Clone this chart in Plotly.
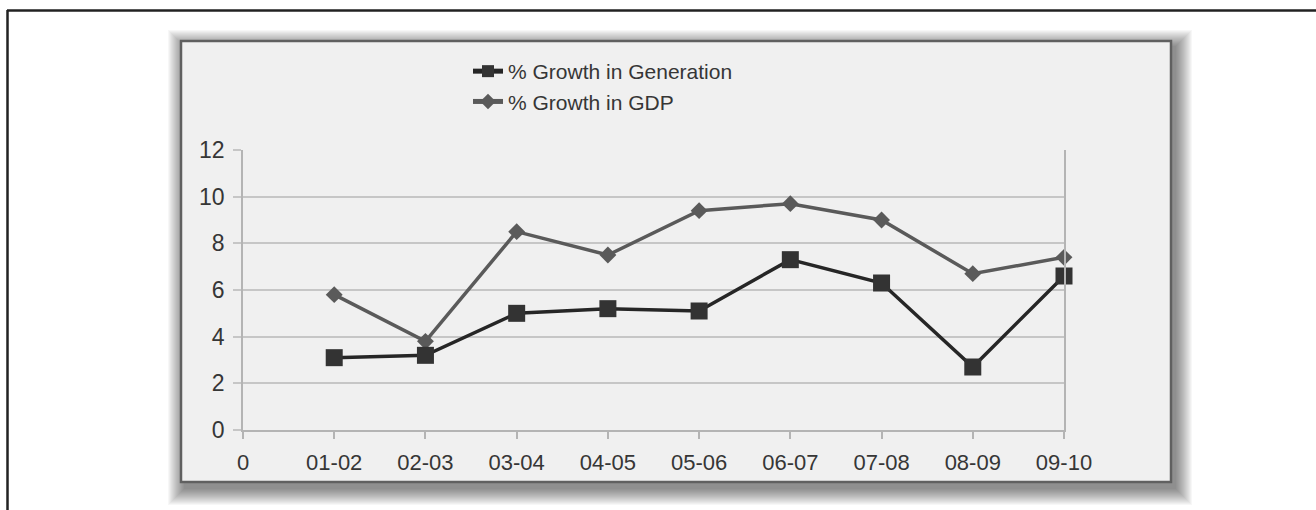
import plotly.graph_objects as go

# ---- data ----
tick_labels = ["0", "01-02", "02-03", "03-04", "04-05", "05-06", "06-07", "07-08", "08-09", "09-10"]
years = ["01-02", "02-03", "03-04", "04-05", "05-06", "06-07", "07-08", "08-09", "09-10"]
growth_generation = [3.1, 3.2, 5.0, 5.2, 5.1, 7.3, 6.3, 2.7, 6.6]
growth_gdp = [5.8, 3.8, 8.5, 7.5, 9.4, 9.7, 9.0, 6.7, 7.4]
y_ticks = [0, 2, 4, 6, 8, 10, 12]

W, H = 1316, 510
L, R, T, B = 243, 1064, 150, 430  # plot area in pixels

def px(x):
    return (x - L) / (R - L)

def py(y):
    return (B - y) / (B - T)

FONT = "Liberation Sans, Arial, sans-serif"
TXT = "#363636"

fig = go.Figure()
fig.add_trace(go.Scatter(
    x=years, y=growth_gdp, name="% Growth in GDP", mode="lines+markers",
    line=dict(color="#5a5a5a", width=3.5),
    marker=dict(symbol="diamond", size=13, color="#5a5a5a"),
    legendrank=2, cliponaxis=False,
))
fig.add_trace(go.Scatter(
    x=years, y=growth_generation, name="% Growth in Generation", mode="lines+markers",
    line=dict(color="#262626", width=3.5),
    marker=dict(symbol="square", size=17, color="#333333"),
    legendrank=1, cliponaxis=False,
))

shapes = []
# panel shadow
px0, py0, px1, py1 = 181, 41, 1171, 482
for k in range(1, 18):
    shapes.append(dict(type="rect", xref="paper", yref="paper", layer="below",
                       x0=px(px0 - k + 4), x1=px(px1 + k + 4),
                       y0=py(py1 + k + 6), y1=py(py0 - k + 6),
                       line=dict(width=0), fillcolor="rgba(0,0,0,0.03)"))
# panel
shapes.append(dict(type="rect", xref="paper", yref="paper", layer="below",
                   x0=px(px0), x1=px(px1), y0=py(py1), y1=py(py0),
                   line=dict(color="#606060", width=2.5), fillcolor="#f0f0f0"))
# outer frame (top and left edges)
shapes.append(dict(type="line", xref="paper", yref="paper", layer="above",
                   x0=px(7), x1=px(W + 5), y0=py(10.5), y1=py(10.5),
                   line=dict(color="#222222", width=2.5)))
shapes.append(dict(type="line", xref="paper", yref="paper", layer="above",
                   x0=px(7.5), x1=px(7.5), y0=py(10), y1=py(H + 5),
                   line=dict(color="#222222", width=2.5)))

fig.update_layout(
    width=W, height=H,
    margin=dict(l=L, r=W - R, t=T, b=H - B),
    paper_bgcolor="white", plot_bgcolor="rgba(0,0,0,0)",
    font=dict(family=FONT, size=22, color=TXT),
    shapes=shapes,
    showlegend=True,
    legend=dict(x=px(468), y=py(51), xanchor="left", yanchor="top",
                bgcolor="rgba(0,0,0,0)", font=dict(size=21, color=TXT),
                itemwidth=30, tracegroupgap=0, itemsizing="constant"),
    xaxis=dict(type="category", categoryorder="array", categoryarray=tick_labels,
               tickvals=tick_labels, ticktext=tick_labels,
               range=[0, len(tick_labels) - 1],
               showgrid=False, showline=True, linecolor="#b4b4b4", linewidth=1.5,
               ticks="outside", ticklen=7, tickcolor="#b4b4b4", tickwidth=1.5,
               ticklabelstandoff=5, zeroline=False,
               tickfont=dict(size=22, color=TXT)),
    yaxis=dict(range=[0, 12], tickvals=y_ticks, showgrid=True, gridcolor="#c6c6c6", gridwidth=2,
               showline=True, linecolor="#b4b4b4", linewidth=1.5, mirror=True,
               ticks="outside", ticklen=8, tickcolor="#c6c6c6", tickwidth=2,
               zeroline=False, ticklabelstandoff=4,
               tickfont=dict(size=23, color=TXT)),
)

fig.write_html("out.html")
